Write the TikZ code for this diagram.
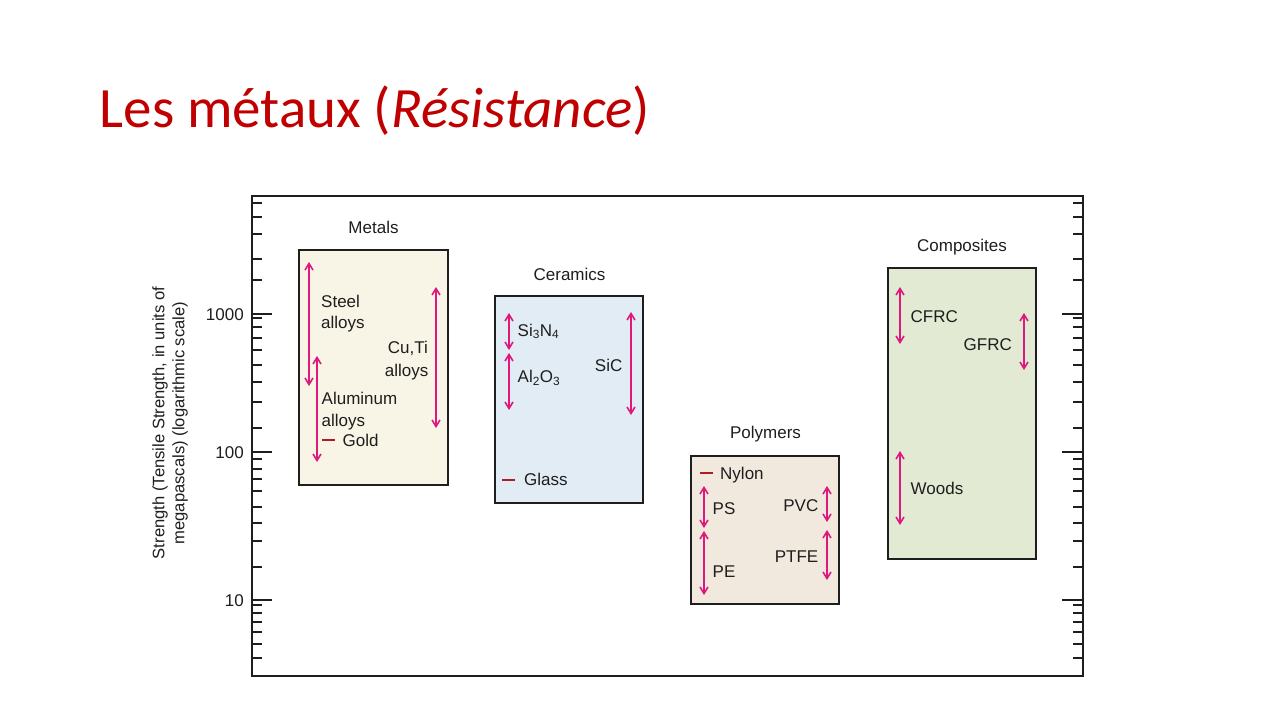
\documentclass[tikz,border=0pt]{standalone}
\usepackage{fontspec}
\setmainfont{Liberation Sans}
\newfontfamily\titlefont{Carlito}
\usetikzlibrary{arrows.meta}
\definecolor{titlered}{RGB}{192,0,0}
\definecolor{barmag}{RGB}{222,24,124}
\definecolor{dashred}{RGB}{170,30,40}
\definecolor{metfill}{RGB}{248,245,231}
\definecolor{cerfill}{RGB}{226,236,244}
\definecolor{polfill}{RGB}{242,233,222}
\definecolor{comfill}{RGB}{227,234,212}
\definecolor{ink}{RGB}{30,30,30}
\newcommand\rangebar[4]{%
  \coordinate (#1a) at (#2,#3);
  \coordinate (#1b) at (#2,#4);
  \draw[rangebarline] (#1a) -- (#1b);}
\begin{document}
\begin{tikzpicture}[x=1pt,y=-1pt,
  lbl/.style={inner sep=0pt, font=\fontsize{17}{20}\selectfont, text=ink},
  matbox/.style={draw=ink, line width=2pt},
  rangebarline/.style={draw=barmag, line width=2pt,
    {Straight Barb[length=6.5pt,width=8pt,line width=1.6pt]}-{Straight Barb[length=6.5pt,width=8pt,line width=1.6pt]}},
  pointmark/.style={draw=dashred, line width=1.1pt},
  tickmark/.style={draw=ink, line width=1.3pt},
]
\useasboundingbox[fill=white] (0,0) rectangle (1280,720);

% title
\node[anchor=base west, inner sep=0pt, text=titlered,
  font=\titlefont\fontsize{57}{60}\selectfont] (title) at (99.5,127)
  {Les métaux (\textit{Résistance})};

% frame
\coordinate (frTL) at (252,196);
\coordinate (frBR) at (1083,676);
\draw[line width=2pt, draw=ink] (frTL) rectangle (frBR);

% minor ticks
\foreach \y in {203,217,234,259,280,318,327,338,350,365,382,402,428,
                459,469,479,491,507,523,541,567,605,613,622,632,644,658}{
  \draw[tickmark] (252,\y) -- (262,\y);
  \draw[tickmark] (1083,\y) -- (1073,\y);
}
% major ticks
\foreach \y in {314,452,600}{
  \draw[tickmark] (252,\y) -- (272,\y);
  \draw[tickmark] (1083,\y) -- (1062,\y);
}
\node[lbl, anchor=base east] (l1000) at (244,320) {1000};
\node[lbl, anchor=base east] (l100) at (244,458) {100};
\node[lbl, anchor=base east] (l10) at (244,606) {10};

\node[inner sep=0pt, rotate=90, align=center, text=ink,
  font=\fontsize{16.6}{20}\selectfont] (ylabel) at (170,423)
  {Strength (Tensile Strength, in units of\\megapascals) (logarithmic scale)};

% boxes
\coordinate (metTL) at (299,250);  \coordinate (metBR) at (448,485);
\coordinate (cerTL) at (495,296);  \coordinate (cerBR) at (643,503);
\coordinate (polTL) at (691,456);  \coordinate (polBR) at (839,604);
\coordinate (comTL) at (888,268);  \coordinate (comBR) at (1036,559);
\draw[matbox, fill=metfill] (metTL) rectangle (metBR);
\draw[matbox, fill=cerfill] (cerTL) rectangle (cerBR);
\draw[matbox, fill=polfill] (polTL) rectangle (polBR);
\draw[matbox, fill=comfill] (comTL) rectangle (comBR);

\node[lbl, anchor=base] (metals) at (373.5,233) {Metals};
\node[lbl, anchor=base] (ceramics) at (569.5,280) {Ceramics};
\node[lbl, anchor=base] (polymers) at (765.5,438) {Polymers};
\node[lbl, anchor=base] (composites) at (962,251.5) {Composites};

% metals
\rangebar{steel}{309}{262}{386}
\rangebar{alu}{317}{356}{462}
\rangebar{cuti}{436}{287}{428}
\node[lbl, anchor=base west] (steel1) at (321,307) {Steel};
\node[lbl, anchor=base west] (steel2) at (321,328.5) {alloys};
\node[lbl, anchor=base east] (cuti1) at (428,353.5) {Cu,Ti};
\node[lbl, anchor=base east] (cuti2) at (428.5,376) {alloys};
\node[lbl, anchor=base west] (alu1) at (321.5,404) {Aluminum};
\node[lbl, anchor=base west] (alu2) at (321.5,426) {alloys};
\node[lbl, anchor=base west] (gold) at (342.5,446) {Gold};
\coordinate (goldA) at (322,440); \coordinate (goldB) at (335,440);
\draw[pointmark] (goldA) -- (goldB);

% ceramics
\rangebar{sin}{509}{313}{350}
\rangebar{alo}{509}{353}{410}
\rangebar{sic}{631}{312}{415}
\node[lbl, anchor=base west] (sin) at (517.5,336) {Si\textsubscript{3}N\textsubscript{4}};
\node[lbl, anchor=base west] (alo) at (517.5,382.5) {Al\textsubscript{2}O\textsubscript{3}};
\node[lbl, anchor=base east] (sictext) at (622.5,371) {SiC};
\node[lbl, anchor=base west] (glass) at (524,485.5) {Glass};
\coordinate (glassA) at (502,480); \coordinate (glassB) at (515,480);
\draw[pointmark] (glassA) -- (glassB);

% polymers
\coordinate (nylA) at (700,473); \coordinate (nylB) at (713,473);
\draw[pointmark] (nylA) -- (nylB);
\node[lbl, anchor=base west] (nylon) at (720,479) {Nylon};
\rangebar{ps}{704}{486}{528}
\rangebar{pe}{704}{531}{595}
\rangebar{pvc}{827}{486}{522}
\rangebar{ptfe}{827}{530}{580}
\node[lbl, anchor=base west] (pstext) at (712.5,514.5) {PS};
\node[lbl, anchor=base west] (petext) at (712.5,577) {PE};
\node[lbl, anchor=base east] (pvctext) at (818.5,511) {PVC};
\node[lbl, anchor=base east] (ptfetext) at (818.5,562) {PTFE};

% composites
\rangebar{cfrc}{900}{287}{344}
\rangebar{gfrc}{1024}{313}{370}
\rangebar{woods}{900}{451}{525}
\node[lbl, anchor=base west] (cfrctext) at (910.5,322) {CFRC};
\node[lbl, anchor=base east] (gfrctext) at (1012,350.5) {GFRC};
\node[lbl, anchor=base west] (woodstext) at (910.5,494.5) {Woods};
\end{tikzpicture}
\end{document}
